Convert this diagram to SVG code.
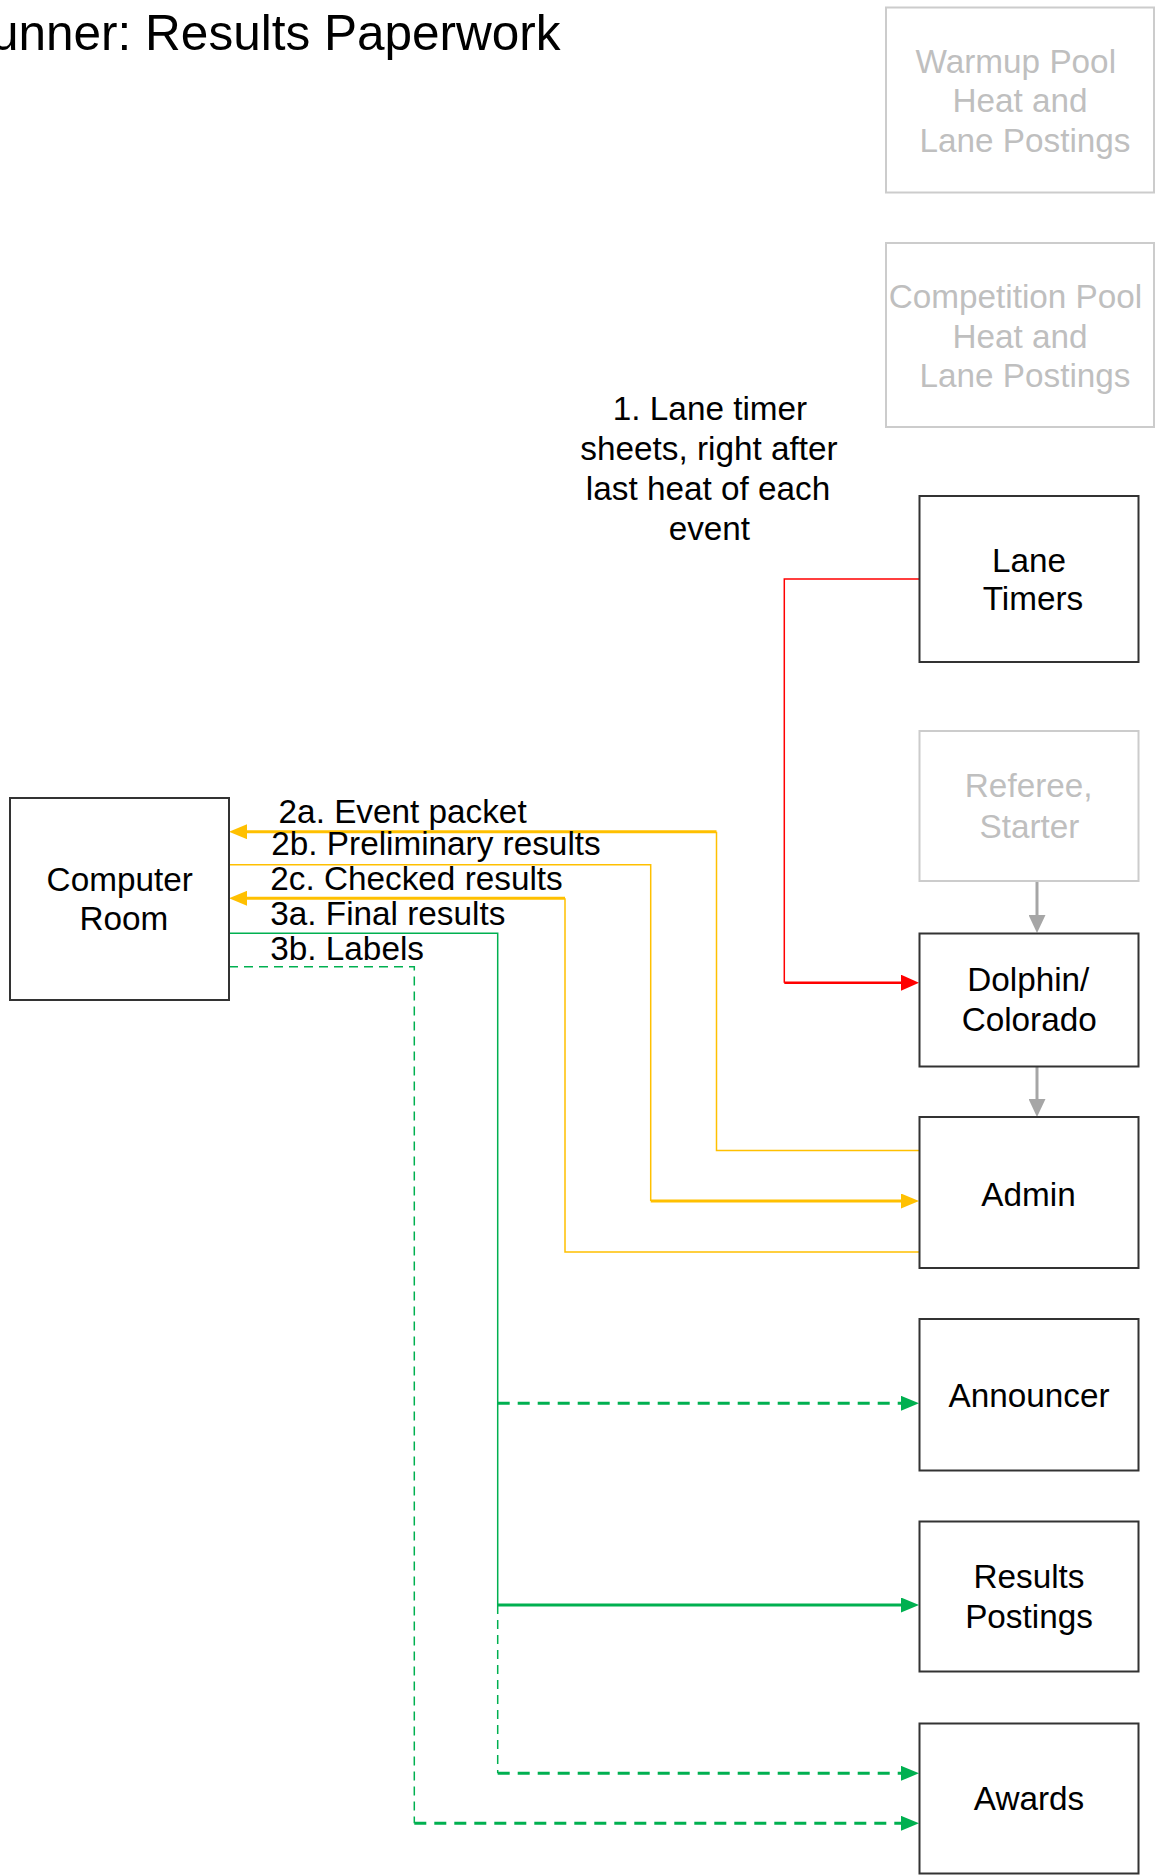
<svg xmlns="http://www.w3.org/2000/svg" width="1155" height="1875" viewBox="0 0 1155 1875">
<defs>
<style>
text{font-family:"Liberation Sans",Arial,sans-serif;font-size:33.3px;fill:#000}
.c{text-anchor:middle}
.gt{fill:#bfbfbf}
.box{fill:#fff;stroke:#333;stroke-width:2}
.gbox{fill:#fff;stroke:#cccccc;stroke-width:2}
.thin{fill:none;stroke-width:1.5}
.thick{fill:none;stroke-width:3}
.y{stroke:#ffc000}
.gr{stroke:#00b050}
.r{stroke:#ff0000}
.gy{stroke:#a6a6a6}
.d1{stroke-dasharray:9 6}
.d2{stroke-dasharray:12 8}
</style>
<marker id="ay" markerUnits="userSpaceOnUse" markerWidth="18" markerHeight="15" refX="8" refY="7.5" orient="auto"><path d="M0,0L18,7.5L0,15z" fill="#ffc000"/></marker>
<marker id="ag" markerUnits="userSpaceOnUse" markerWidth="18" markerHeight="15" refX="8" refY="7.5" orient="auto"><path d="M0,0L18,7.5L0,15z" fill="#00b050"/></marker>
<marker id="ar" markerUnits="userSpaceOnUse" markerWidth="18" markerHeight="16" refX="8" refY="8" orient="auto"><path d="M0,0L18,8L0,16z" fill="#ff0000"/></marker>
<marker id="agy" markerUnits="userSpaceOnUse" markerWidth="18" markerHeight="17" refX="8" refY="8.5" orient="auto"><path d="M0,0L18,8.5L0,17z" fill="#a6a6a6"/></marker>
</defs>
<rect width="1155" height="1875" fill="#fff"/>

<g id="title"><text x="-9" y="50" style="font-size:49.5px">unner: Results Paperwork</text></g>

<g id="connectors">
  <!-- 1. Lane timers to Dolphin -->
  <path class="thin r" d="M919,579H784.3V982.7"/>
  <path class="thick r" d="M784.3,982.7H909" marker-end="url(#ar)" style="stroke-width:2.5"/>
  <!-- gray -->
  <path class="thick gy" d="M1037,881.5V923" marker-end="url(#agy)"/>
  <path class="thick gy" d="M1037,1067V1107" marker-end="url(#agy)"/>
  <!-- 2a -->
  <path class="thin y" d="M919,1150.4H716.5V831.7"/>
  <path class="thick y" d="M716.5,831.7H239" marker-end="url(#ay)"/>
  <!-- 2b -->
  <path class="thin y" d="M229,864.7H650.7V1201"/>
  <path class="thick y" d="M650.7,1201H909" marker-end="url(#ay)"/>
  <!-- 2c -->
  <path class="thin y" d="M919,1252H565V898.3"/>
  <path class="thick y" d="M565,898.3H239" marker-end="url(#ay)"/>
  <!-- 3a -->
  <path class="thin gr" d="M229,933.3H497.7V1605"/>
  <path class="thin gr d1" d="M497.7,1605V1773.3"/>
  <path class="thick gr d2" d="M497.7,1403.3H909" marker-end="url(#ag)"/>
  <path class="thick gr" d="M497.7,1605H909" marker-end="url(#ag)"/>
  <path class="thick gr d2" d="M497.7,1773.3H909" marker-end="url(#ag)"/>
  <!-- 3b -->
  <path class="thin gr d1" d="M229,966.7H414.3V1823.3"/>
  <path class="thick gr d2" d="M414.3,1823.3H909" marker-end="url(#ag)"/>
</g>

<g id="edge-labels">
  <text x="278.6" y="823.3">2a. Event packet</text>
  <text x="271.3" y="855">2b. Preliminary results</text>
  <text x="270.3" y="890">2c. Checked results</text>
  <text x="270.3" y="925">3a. Final results</text>
  <text x="270.3" y="960">3b. Labels</text>
</g>

<g id="label-lane-timer-sheets">
  <text class="c"><tspan x="710" y="420">1. Lane timer</tspan><tspan x="709" y="460">sheets, right after</tspan><tspan x="708" y="499.5">last heat of each</tspan><tspan x="709.4" y="540">event</tspan></text>
</g>

<g id="warmup-pool">
  <rect class="gbox" x="886" y="7.5" width="268" height="185"/>
  <text class="c gt"><tspan x="1015.8" y="72.5">Warmup Pool</tspan><tspan x="1020" y="112">Heat and</tspan><tspan x="1025" y="151.5">Lane Postings</tspan></text>
</g>

<g id="competition-pool">
  <rect class="gbox" x="886" y="243" width="268" height="184"/>
  <text class="c gt"><tspan x="1015.5" y="307.5">Competition Pool</tspan><tspan x="1020" y="347.5">Heat and</tspan><tspan x="1025" y="387">Lane Postings</tspan></text>
</g>

<g id="lane-timers">
  <rect class="box" x="919.5" y="496" width="219" height="166"/>
  <text class="c"><tspan x="1029" y="571.7">Lane</tspan><tspan x="1033" y="610">Timers</tspan></text>
</g>

<g id="referee-starter">
  <rect class="gbox" x="919.5" y="731" width="219" height="150"/>
  <text class="c gt"><tspan x="1028.7" y="797">Referee,</tspan><tspan x="1029.5" y="838">Starter</tspan></text>
</g>

<g id="dolphin-colorado">
  <rect class="box" x="919.5" y="933.5" width="219" height="133"/>
  <text class="c"><tspan x="1028.3" y="991.3">Dolphin/</tspan><tspan x="1029.2" y="1031">Colorado</tspan></text>
</g>

<g id="admin">
  <rect class="box" x="919.5" y="1117" width="219" height="151"/>
  <text class="c" x="1028.5" y="1205.5">Admin</text>
</g>

<g id="announcer">
  <rect class="box" x="919.5" y="1319" width="219" height="151.5"/>
  <text class="c" x="1029" y="1406.5">Announcer</text>
</g>

<g id="results-postings">
  <rect class="box" x="919.5" y="1521.5" width="219" height="150"/>
  <text class="c"><tspan x="1029" y="1588">Results</tspan><tspan x="1029" y="1628">Postings</tspan></text>
</g>

<g id="awards">
  <rect class="box" x="919.5" y="1723.5" width="219" height="150"/>
  <text class="c" x="1029" y="1809.5">Awards</text>
</g>

<g id="computer-room">
  <rect class="box" x="10" y="798" width="219" height="202"/>
  <text class="c"><tspan x="119.7" y="890.7">Computer</tspan><tspan x="123.8" y="930">Room</tspan></text>
</g>
</svg>
